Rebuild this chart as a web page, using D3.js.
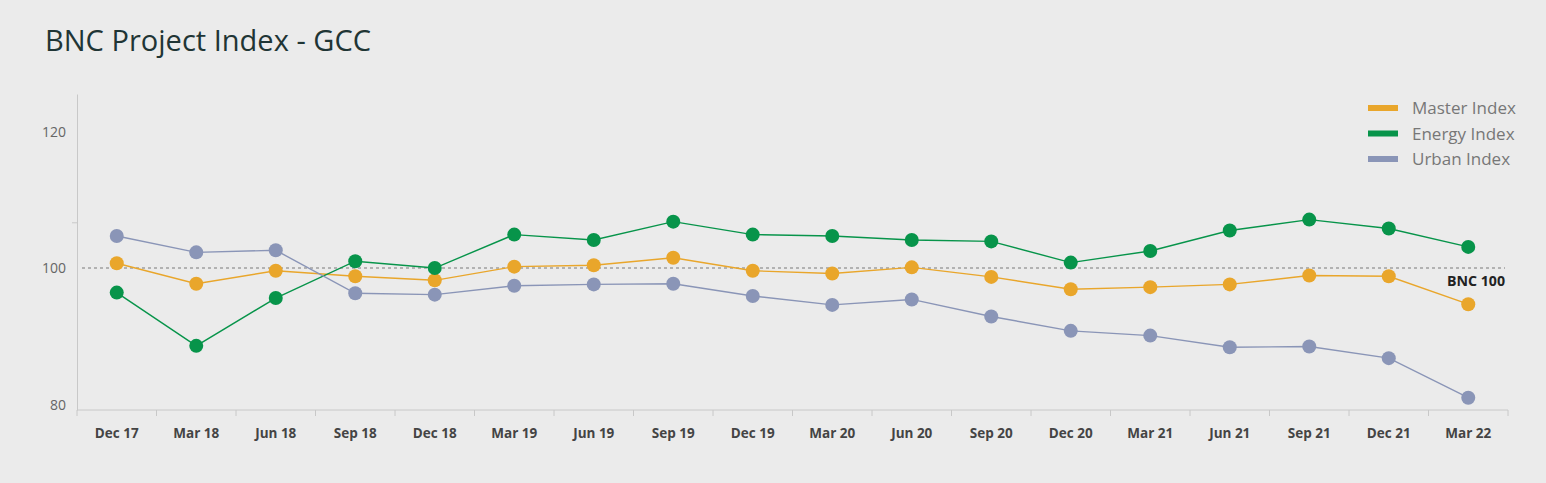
<!DOCTYPE html>
<html>
<head>
<meta charset="utf-8">
<script src="https://cdn.jsdelivr.net/npm/d3@7"></script>
<style>
  body { margin: 0; background: #ebebeb; }
  svg { display: block; font-family: "Open Sans", "Noto Sans", sans-serif; }
</style>
</head>
<body>
<div id="chart"></div>
<script>

const categories = ["Dec 17", "Mar 18", "Jun 18", "Sep 18", "Dec 18", "Mar 19", "Jun 19", "Sep 19", "Dec 19",
    "Mar 20", "Jun 20", "Sep 20", "Dec 20", "Mar 21", "Jun 21", "Sep 21", "Dec 21", "Mar 22"];

const masterIndex = [100.7, 97.7, 99.6, 98.8, 98.2, 100.2, 100.4, 101.5, 99.6,
    99.2, 100.1, 98.7, 96.9, 97.2, 97.6, 98.9, 98.8, 94.7];

const energyIndex = [96.4, 88.6, 95.6, 101.0, 100.0, 104.9, 104.1, 106.8, 104.9,
    104.7, 104.1, 103.9, 100.8, 102.5, 105.5, 107.1, 105.8, 103.1];

const urbanIndex = [104.7, 102.3, 102.6, 96.3, 96.1, 97.4, 97.6, 97.7, 95.9,
    94.6, 95.4, 92.9, 90.8, 90.1, 88.4, 88.5, 86.8, 81.0];

const yLabels = [80, 100, 120];
const yMinorTicks = [106.7];
const baseline = 100;

const series = [
    { name: "Master Index", values: masterIndex, color: "#e9a62b" },
    { name: "Energy Index", values: energyIndex, color: "#07944a" },
    { name: "Urban Index", values: urbanIndex, color: "#8a95b7" }
];

function drawChart() {

    const dimensions = {
        width: 1546,
        height: 483,
        margin: { top: 94, bottom: 73, left: 77, right: 38 }
    };
    dimensions.containerWidth = dimensions.width - dimensions.margin.left - dimensions.margin.right;
    dimensions.containerHeight = dimensions.height - dimensions.margin.top - dimensions.margin.bottom;

    const svg = d3.select("#chart")
        .append("svg")
        .attr("width", dimensions.width)
        .attr("height", dimensions.height);

    svg.append("rect")
        .attr("width", dimensions.width)
        .attr("height", dimensions.height)
        .attr("fill", "#ebebeb");

    svg.append("text")
        .attr("x", 45)
        .attr("y", 51)
        .attr("font-size", 29)
        .attr("fill", "#1f3535")
        .attr("textLength", 326)
        .attr("lengthAdjust", "spacingAndGlyphs")
        .text("BNC Project Index - GCC");

    const container = svg.append("g")
        .attr("transform", `translate(${dimensions.margin.left}, ${dimensions.margin.top})`);

    const xScale = d3.scaleBand()
        .domain(categories)
        .range([0, dimensions.containerWidth]);

    const yScale = d3.scaleLinear()
        .domain([79.2, 125.5])
        .range([dimensions.containerHeight, 0]);

    // x axis: ticks on band edges
    const xAxisGroup = container.append("g")
        .attr("transform", `translate(0, ${dimensions.containerHeight})`);

    xAxisGroup.append("line")
        .attr("x1", 0)
        .attr("x2", dimensions.containerWidth)
        .attr("stroke", "#c8c8c8");

    xAxisGroup.selectAll(".tick-edge")
        .data(categories.concat([null]))
        .join("line")
        .attr("class", "tick-edge")
        .attr("x1", (d, i) => i * xScale.bandwidth())
        .attr("x2", (d, i) => i * xScale.bandwidth())
        .attr("y1", 0)
        .attr("y2", 6)
        .attr("stroke", "#c8c8c8");

    xAxisGroup.selectAll(".x-label")
        .data(categories)
        .join("text")
        .attr("class", "x-label")
        .attr("x", d => xScale(d) + xScale.bandwidth() / 2)
        .attr("y", 28)
        .attr("text-anchor", "middle")
        .attr("font-size", 13.5)
        .attr("font-weight", "bold")
        .attr("fill", "#444")
        .text(d => d);

    // y axis
    const yAxis = d3.axisLeft(yScale)
        .tickValues(yMinorTicks)
        .tickFormat("")
        .tickSize(5)
        .tickSizeOuter(0);

    const yAxisGroup = container.append("g").call(yAxis);
    yAxisGroup.select(".domain").attr("stroke", "#c8c8c8");
    yAxisGroup.selectAll(".tick line").attr("stroke", "#c8c8c8");

    container.selectAll(".y-label")
        .data(yLabels)
        .join("text")
        .attr("class", "y-label")
        .attr("x", -11)
        .attr("y", d => yScale(d) + 5)
        .attr("text-anchor", "end")
        .attr("font-size", 14)
        .attr("fill", "#666")
        .text(d => d);

    // BNC 100 reference line
    container.append("line")
        .attr("x1", 5)
        .attr("x2", dimensions.containerWidth - 3)
        .attr("y1", yScale(baseline))
        .attr("y2", yScale(baseline))
        .attr("stroke", "#a0a0a0")
        .attr("stroke-width", 1.5)
        .attr("stroke-dasharray", "3 3");

    container.append("text")
        .attr("x", dimensions.containerWidth - 3)
        .attr("y", yScale(baseline) + 18)
        .attr("text-anchor", "end")
        .attr("font-size", 13.5)
        .attr("font-weight", "bold")
        .attr("fill", "#222")
        .attr("textLength", 58)
        .attr("lengthAdjust", "spacingAndGlyphs")
        .text("BNC " + baseline);

    const line = d3.line()
        .x((d, i) => xScale(categories[i]) + xScale.bandwidth() / 2)
        .y(d => yScale(d));

    const seriesGroups = container.selectAll(".series")
        .data(series)
        .join("g")
        .attr("class", "series");

    seriesGroups.append("path")
        .attr("fill", "none")
        .attr("stroke", d => d.color)
        .attr("stroke-width", 1.4)
        .attr("d", d => line(d.values));

    seriesGroups.selectAll("circle")
        .data(d => d.values.map(v => ({ v, color: d.color })))
        .join("circle")
        .attr("cx", (d, i) => xScale(categories[i]) + xScale.bandwidth() / 2)
        .attr("cy", d => yScale(d.v))
        .attr("r", 7)
        .attr("fill", d => d.color);

    // legend
    const legend = svg.append("g")
        .attr("transform", "translate(1368, 108)");

    const legendItems = legend.selectAll("g")
        .data(series)
        .join("g")
        .attr("transform", (d, i) => `translate(0, ${i * 25.5})`);

    legendItems.append("rect")
        .attr("x", 0)
        .attr("y", -3)
        .attr("width", 30)
        .attr("height", 6)
        .attr("fill", d => d.color);

    legendItems.append("text")
        .attr("x", 44)
        .attr("y", 6)
        .attr("font-size", 17)
        .attr("fill", "#777")
        .text(d => d.name);
}

drawChart();
</script>
</body>
</html>
